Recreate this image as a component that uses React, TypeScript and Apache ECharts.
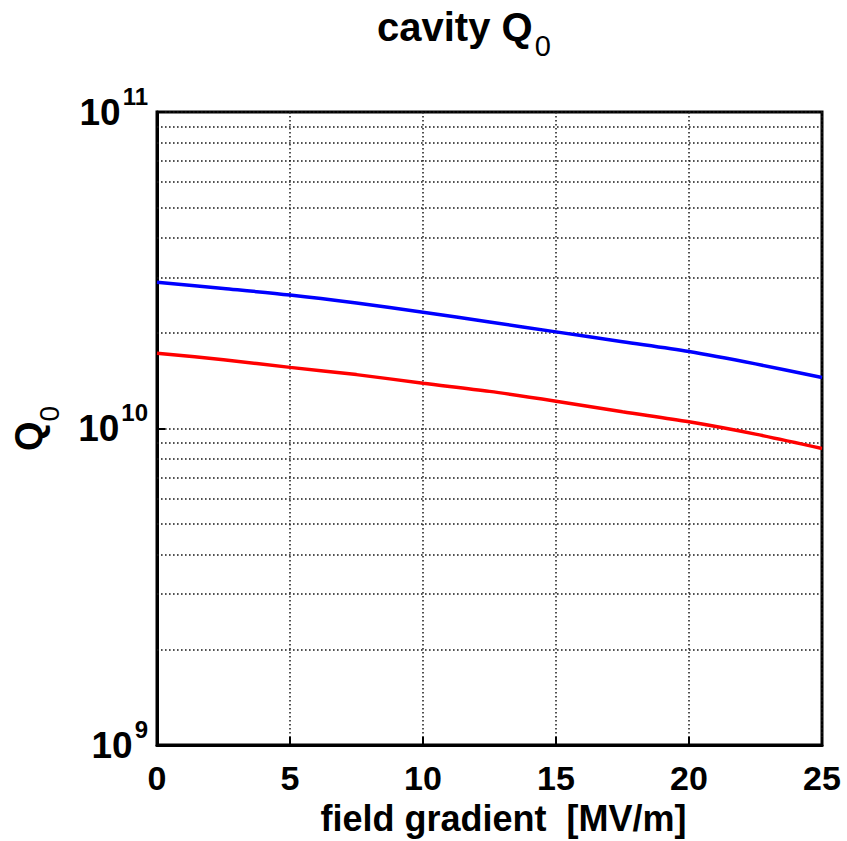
import React, { useEffect, useRef } from "react";
import * as echarts from "echarts";

const fieldGradient = [0, 2.5, 5, 7.5, 10, 12.5, 15, 17.5, 20, 22.5, 25];
const blueQ0 = [2.9e10, 2.77e10, 2.64e10, 2.49e10, 2.33e10, 2.17e10, 2.02e10, 1.88e10, 1.75e10, 1.6e10, 1.45e10];
const redQ0 = [1.73e10, 1.65e10, 1.56e10, 1.48e10, 1.39e10, 1.31e10, 1.22e10, 1.13e10, 1.05e10, 0.96e10, 0.865e10];
const minorGridValues = [
  2e9, 3e9, 4e9, 5e9, 6e9, 7e9, 8e9, 9e9,
  2e10, 3e10, 4e10, 5e10, 6e10, 7e10, 8e10, 9e10,
];
const xTickValues = [0, 5, 10, 15, 20, 25];

const FONT = "'Liberation Sans', Arial, Helvetica, sans-serif";
const gridLineStyle = { color: "#1a1a1a", width: 1.5, type: [1.6, 2.4] as any };

export default function App() {
  const ref = useRef<HTMLDivElement>(null);
  useEffect(() => {
    if (!ref.current) return;
    const chart = echarts.init(ref.current, undefined, { renderer: "svg" });
    const toPairs = (ys: number[]) => fieldGradient.map((x, i) => [x, ys[i]]);
    chart.setOption({
      animation: false,
      backgroundColor: "#fff",
      title: {
        text: "{c|cavity }{q|Q}{s|0}",
        left: 377,
        top: 4,
        padding: 0,
        textStyle: {
          rich: {
            c: { fontFamily: FONT, fontWeight: "bold", fontSize: 40, color: "#000", lineHeight: 46 },
            q: { fontFamily: FONT, fontWeight: "bold", fontSize: 40, color: "#000", lineHeight: 46 },
            s: {
              fontFamily: FONT,
              fontWeight: "normal",
              fontSize: 29,
              color: "#000",
              lineHeight: 8,
              padding: [38, 0, 0, 2],
            },
          },
        },
      },
      grid: {
        left: 157,
        top: 112,
        width: 665,
        height: 633,
        show: true,
        borderColor: "#000",
        borderWidth: 3,
        backgroundColor: "#fff",
        containLabel: false,
        outerBoundsMode: "none",
      },
      xAxis: {
        type: "value",
        min: 0,
        max: 25,
        interval: 5,
        name: "field gradient  [MV/m]",
        nameLocation: "middle",
        nameGap: 55,
        nameTextStyle: {
          fontFamily: FONT,
          fontWeight: "bold",
          fontSize: 36,
          color: "#000",
          padding: [0, 0, 0, 28],
        },
        axisLine: { show: true, lineStyle: { color: "#000", width: 3 } },
        axisTick: { show: true, inside: true, length: 8, lineStyle: { color: "#000", width: 2 } },
        axisLabel: {
          margin: 16,
          fontFamily: FONT,
          fontWeight: "bold",
          fontSize: 34,
          color: "#000",
          formatter: (v: number) => (xTickValues.includes(v) ? String(v) : ""),
        },
        splitLine: { show: true, lineStyle: gridLineStyle },
      },
      yAxis: {
        type: "log",
        logBase: 10,
        min: 1e9,
        max: 1e11,
        name: "{q|Q}{s|0}",
        nameLocation: "middle",
        nameRotate: 90,
        nameGap: 106,
        nameTextStyle: {
          rich: {
            q: { fontFamily: FONT, fontWeight: "bold", fontSize: 38, color: "#000", lineHeight: 44 },
            s: {
              fontFamily: FONT,
              fontWeight: "normal",
              fontSize: 28,
              color: "#000",
              lineHeight: 4,
              padding: [40, 0, 0, 0],
            },
          },
        },
        axisLine: { show: true, lineStyle: { color: "#000", width: 3 } },
        axisTick: { show: true, inside: true, length: 8, lineStyle: { color: "#000", width: 2 } },
        axisLabel: {
          margin: 9,
          formatter: (v: number) => {
            const e = Math.round(Math.log10(v));
            return "{b|10}{s|" + e + "}";
          },
          rich: {
            b: { fontFamily: FONT, fontWeight: "bold", fontSize: 37, color: "#000", lineHeight: 40 },
            s: {
              fontFamily: FONT,
              fontWeight: "bold",
              fontSize: 24,
              color: "#000",
              lineHeight: 8,
              padding: [0, 0, 32, 2],
            },
          },
        },
        splitLine: { show: true, lineStyle: gridLineStyle },
        minorTick: { show: false },
      },
      series: [
        {
          type: "line",
          data: toPairs(blueQ0),
          showSymbol: false,
          smooth: 0.3,
          lineStyle: { color: "#0000ff", width: 3.5 },
          itemStyle: { color: "#0000ff" },
          z: 5,
          markLine: {
            silent: true,
            symbol: "none",
            label: { show: false },
            lineStyle: gridLineStyle,
            emphasis: { disabled: true },
            data: minorGridValues.map((v) => ({ yAxis: v })),
            z: 1,
          },
        },
        {
          type: "line",
          data: toPairs(redQ0),
          showSymbol: false,
          smooth: 0.3,
          lineStyle: { color: "#ff0000", width: 3.5 },
          itemStyle: { color: "#ff0000" },
          z: 5,
        },
      ],
    });
    return () => chart.dispose();
  }, []);
  return (
    <div
      ref={ref}
      style={{ position: "absolute", left: 0, top: 0, width: 847, height: 841 }}
    />
  );
}
